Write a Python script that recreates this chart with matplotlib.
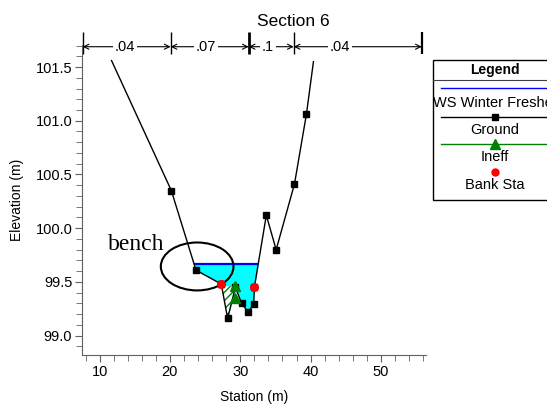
import numpy as np
import matplotlib.pyplot as plt
from matplotlib.patches import Ellipse, Rectangle
from matplotlib.lines import Line2D
from matplotlib.ticker import MultipleLocator, FormatStrFormatter

plt.rcParams['font.family'] = ['Liberation Sans', 'DejaVu Sans']
plt.rcParams['hatch.linewidth'] = 1.0

# ground survey points
ground_sta = [11.7, 20.2, 23.7, 27.3, 28.2, 29.3, 30.2, 31.1, 31.9, 32.0,
              33.7, 35.1, 37.7, 39.4, 40.4]
ground_elev = [101.56, 100.35, 99.61, 99.48, 99.16, 99.45, 99.30, 99.22,
               99.29, 99.45, 100.12, 99.80, 100.41, 101.06, 101.55]

ws_elev = 99.67          # WS Winter Freshet
bank_sta = [27.3, 32.0]

ineff_sta = [29.3, 29.3]
ineff_elev = [99.46, 99.35]
ineff_left = 27.0

# Manning's n regions along the top
n_breaks = [7.6, 20.1, 31.2, 37.6, 55.8]
n_values = ['.04', '.07', '.1', '.04']
n_label_sta = [13.6, 25.1, 33.9, 44.2]

W, H = 547, 405
fig = plt.figure(figsize=(W / 100, H / 100), dpi=100)
ax = fig.add_axes([82 / W, 1 - 355 / H, 344 / W, 310 / H])

gx = np.array(ground_sta)
gy = np.array(ground_elev)

# water below the WS line
xs = np.linspace(gx.min(), gx.max(), 4000)
ys = np.interp(xs, gx, gy)
wet = ys < ws_elev
ax.fill_between(xs, ys, ws_elev, where=wet, color='#00FFFF', lw=0, zorder=1)
ax.hlines(ws_elev, xs[wet].min(), xs[wet].max(), color='#0000FF', lw=1.6, zorder=3)

# ineffective flow area (hatched)
hx = np.linspace(ineff_left, ineff_sta[0], 400)
hy = np.interp(hx, gx, gy)
ax.fill_between(hx, hy, ineff_elev[0], where=hy < ineff_elev[0], interpolate=True,
                facecolor='white', edgecolor='#008000', hatch='////', lw=0, zorder=2)

# ground line
ax.plot(gx, gy, color='black', lw=1.0, marker='s', ms=4.5,
        markevery=list(range(1, len(gx) - 1)), zorder=4)

# ineff markers and bank stations
ax.plot(ineff_sta, ineff_elev, ls='none', marker='^', ms=7, color='#008000', zorder=5)
bank_elev = np.interp(bank_sta, gx, gy)
ax.plot(bank_sta, bank_elev, ls='none', marker='o', ms=5.5, color='#FF0000', zorder=6)

# bench note
ax.add_patch(Ellipse((23.87, 99.644), 10.33, 0.446, fill=False, lw=1.5,
                     ec='black', zorder=5))
ax.text(11.2, 99.80, 'bench', family=['Liberation Serif', 'DejaVu Serif'],
        fontsize=17, ha='left', va='baseline')

ax.set_xlim(7.5, 56.4)
ax.set_ylim(98.82, 101.705)

# n value bracket
y_br = 101.689
for i, lab in enumerate(n_values):
    ax.annotate('', xy=(n_breaks[i], y_br), xytext=(n_breaks[i + 1], y_br),
                arrowprops=dict(arrowstyle='<->', lw=0.8, color='black',
                                shrinkA=0, shrinkB=0, mutation_scale=9),
                annotation_clip=False)
    ax.text(n_label_sta[i], y_br, lab, ha='center', va='center', fontsize=10.5,
            bbox=dict(fc='white', ec='none', pad=1.5), clip_on=False)
ax.vlines(n_breaks, 101.625, 101.825, color='black',
          linewidths=[1.0, 1.0, 2.0, 1.0, 1.6], clip_on=False)

# axes styling
for s in ['top', 'right']:
    ax.spines[s].set_visible(False)
for s in ['left', 'bottom']:
    ax.spines[s].set_color('#606060')
ax.xaxis.set_major_locator(MultipleLocator(10))
ax.xaxis.set_minor_locator(MultipleLocator(2))
ax.yaxis.set_major_locator(MultipleLocator(0.5))
ax.yaxis.set_minor_locator(MultipleLocator(0.1))
ax.yaxis.set_major_formatter(FormatStrFormatter('%.1f'))
ax.tick_params(which='both', direction='out', color='#606060', labelsize=10.5, pad=2)
ax.tick_params(which='major', length=5)
ax.tick_params(which='minor', length=4)
ax.set_xlabel('Station (m)', fontsize=10, labelpad=8)
ax.set_ylabel('Elevation (m)', fontsize=10, labelpad=8)

fig.text(293 / W, 1 - 21.7 / H, 'Section 6', ha='center', va='center', fontsize=12.5)

# legend box
def fp(x, y):
    return x / W, 1 - y / H

lx0, ly0 = fp(433, 200)
fig.add_artist(Rectangle((lx0, ly0), 130 / W, 140 / H, fill=False, ec='black',
                         lw=1.0, transform=fig.transFigure))
fig.add_artist(Line2D([433 / W, 1], [1 - 80 / H] * 2, color='#404040', lw=0.8,
                      transform=fig.transFigure))
cx = 495
fig.text(*fp(cx, 70), 'Legend', ha='center', va='center', fontsize=10, weight='bold')
fig.add_artist(Line2D([441 / W, 1], [1 - 88.3 / H] * 2, color='#0000FF', lw=1.0,
                      transform=fig.transFigure))
fig.text(*fp(cx, 103), 'WS Winter Freshet', ha='center', va='center', fontsize=10.5)
fig.add_artist(Line2D([441 / W, 1], [1 - 116.7 / H] * 2, color='black', lw=1.0,
                      transform=fig.transFigure))
fig.add_artist(Line2D([cx / W], [1 - 116.7 / H], color='black', marker='s', ms=4.5,
                      transform=fig.transFigure))
fig.text(*fp(cx, 130), 'Ground', ha='center', va='center', fontsize=10.5)
fig.add_artist(Line2D([441 / W, 1], [1 - 144.3 / H] * 2, color='#008000', lw=1.0,
                      transform=fig.transFigure))
fig.add_artist(Line2D([cx / W], [1 - 144.3 / H], color='#008000', marker='^', ms=7,
                      transform=fig.transFigure))
fig.text(*fp(cx, 156.7), 'Ineff', ha='center', va='center', fontsize=10.5)
fig.add_artist(Line2D([cx / W], [1 - 171.7 / H], color='#FF0000', marker='o', ms=5,
                      transform=fig.transFigure))
fig.text(*fp(cx, 185), 'Bank Sta', ha='center', va='center', fontsize=10.5)

fig.savefig('out.png', dpi=100)
